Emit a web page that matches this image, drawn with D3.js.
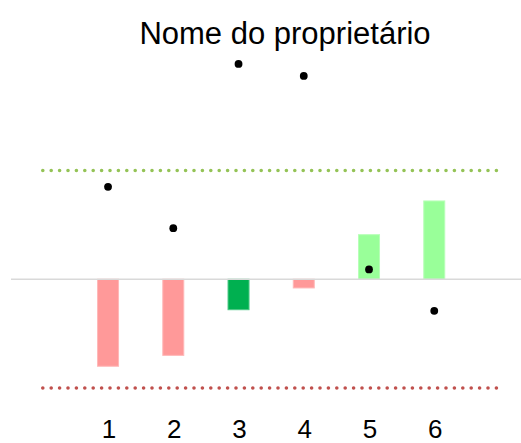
<!DOCTYPE html>
<html>
<head>
<meta charset="utf-8">
<script src="https://cdn.jsdelivr.net/npm/d3@7"></script>
<style>
  html, body { margin: 0; padding: 0; background: #fff; }
  svg { display: block; }
  text { font-family: "Liberation Sans", Arial, sans-serif; }
</style>
</head>
<body>
<svg id="chart" width="521" height="443"></svg>
<script>
// Data
const categories = [1, 2, 3, 4, 5, 6];
const barValues = [-0.80, -0.70, -0.28, -0.08, 0.41, 0.72];
const barColors = ["#FF9999", "#FF9999", "#00B050", "#FF9999", "#99FF99", "#99FF99"];
const dotValues = [0.85, 0.47, 1.98, 1.87, 0.09, -0.29];
const upperLimit = 1;
const lowerLimit = -1;
const title = "Nome do proprietário";

const svg = d3.select("#chart");
const x = d3.scaleLinear().domain([0, 7]).range([42.8, 499.5]);
const y = d3.scaleLinear().domain([-1, 1]).range([388, 170.5]);
const barW = 21;

// Title
svg.append("text")
  .attr("x", 285).attr("y", 44)
  .attr("text-anchor", "middle")
  .attr("font-size", 31)
  .attr("fill", "#000")
  .text(title);

// Bars
const lighten = c => d3.interpolateRgb(c, "#ffffff")(0.3);
svg.append("g").selectAll("rect")
  .data(barValues)
  .join("rect")
  .attr("x", (d, i) => x(categories[i]) - barW / 2)
  .attr("width", barW)
  .attr("y", d => Math.min(y(d), y(0)))
  .attr("height", d => Math.abs(y(d) - y(0)))
  .attr("fill", (d, i) => barColors[i])
  .attr("stroke", (d, i) => lighten(barColors[i]))
  .attr("stroke-width", 1);

// Zero line
svg.append("line")
  .attr("x1", 11).attr("x2", 521)
  .attr("y1", y(0)).attr("y2", y(0))
  .attr("stroke", "#d9d9d9").attr("stroke-width", 1.5);

// Threshold dotted lines
[[upperLimit, "#94C356"], [lowerLimit, "#C0504D"]].forEach(([v, c]) => {
  svg.append("line")
    .attr("x1", x(0)).attr("x2", x(7) - 2)
    .attr("y1", y(v)).attr("y2", y(v))
    .attr("stroke", c)
    .attr("stroke-width", 3.6)
    .attr("stroke-linecap", "round")
    .attr("stroke-dasharray", "0,8.4");
});

// Dots
svg.append("g").selectAll("circle")
  .data(dotValues)
  .join("circle")
  .attr("cx", (d, i) => x(categories[i]))
  .attr("cy", d => y(d))
  .attr("r", 3.9)
  .attr("fill", "#000");

// X tick labels
svg.append("g").selectAll("text")
  .data(categories)
  .join("text")
  .attr("x", d => x(d) + 1)
  .attr("y", 438)
  .attr("text-anchor", "middle")
  .attr("font-size", 26)
  .attr("fill", "#000")
  .text(d => d);
</script>
</body>
</html>
